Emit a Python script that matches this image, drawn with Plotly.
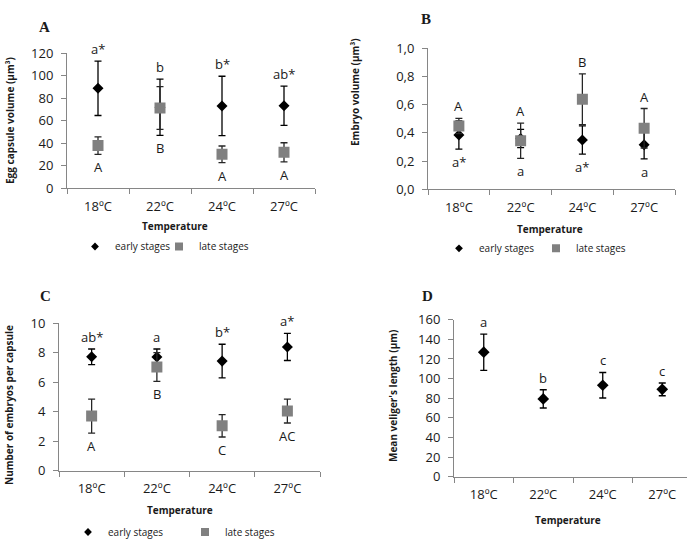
import plotly.graph_objects as go

# ---------------- data ----------------
categories = ["18ºC", "22ºC", "24ºC", "27ºC"]

# Panel A: egg capsule volume
a_early = [88.9, 72.0, 73.2, 73.4]
a_early_err = [24.2, 25.0, 26.4, 17.5]
a_late = [38.0, 71.4, 30.2, 32.0]
a_late_err = [7.8, 19.0, 7.4, 8.5]
a_upper_letters = ["a*", "b", "b*", "ab*"]
a_lower_letters = ["A", "B", "A", "A"]

# Panel B: embryo volume
b_early = [0.385, 0.36, 0.35, 0.316]
b_early_err = [0.10, 0.065, 0.10, 0.10]
b_late = [0.449, 0.345, 0.638, 0.433]
b_late_err = [0.054, 0.125, 0.18, 0.14]
b_upper_letters = ["A", "A", "B", "A"]
b_lower_letters = ["a*", "a", "a*", "a"]

# Panel C: number of embryos per capsule
c_early = [7.71, 7.70, 7.42, 8.38]
c_early_err = [0.53, 0.54, 1.14, 0.92]
c_late = [3.70, 7.02, 3.04, 4.04]
c_late_err = [1.15, 0.97, 0.76, 0.81]
c_upper_letters = ["ab*", "a", "b*", "a*"]
c_lower_letters = ["A", "B", "C", "AC"]

# Panel D: mean veliger's length
d_mean = [126.9, 79.3, 93.2, 89.0]
d_err = [18.5, 9.3, 13.0, 6.5]
d_upper_letters = ["a", "b", "c", "c"]

# ---------------- styling ----------------
W, H = 687, 546
FONT = "Open Sans"
TXT = "#1a1a1a"
AXC = "#868686"
GRAY = "#808080"


def px(x0, x1):
    return [x0 / W, x1 / W]


def py(top, bottom):
    return [1 - bottom / H, 1 - top / H]


fig = go.Figure()

panels = [
    ("", a_early, a_early_err, a_late, a_late_err, "legend"),
    ("2", b_early, b_early_err, b_late, b_late_err, "legend2"),
    ("3", c_early, c_early_err, c_late, c_late_err, "legend3"),
]

for suf, e, ee, l, le, leg in panels:
    fig.add_trace(go.Scatter(
        x=categories, y=e, mode="markers", name="early stages",
        xaxis="x" + suf, yaxis="y" + suf, showlegend=False,
        marker=dict(symbol="diamond", size=8.5, color="black"),
        error_y=dict(type="data", array=ee, visible=True, color="black",
                     thickness=1.3, width=3.5),
    ))
    fig.add_trace(go.Scatter(
        x=categories, y=l, mode="markers", name="late stages",
        xaxis="x" + suf, yaxis="y" + suf, showlegend=False,
        marker=dict(symbol="square", size=11, color=GRAY),
        error_y=dict(type="data", array=le, visible=True, color="#262626",
                     thickness=1.3, width=3.5),
    ))
    # legend entries (smaller symbols, as in the original legend)
    fig.add_trace(go.Scatter(
        x=[None], y=[None], mode="markers", name="early stages",
        xaxis="x" + suf, yaxis="y" + suf, legend=leg, hoverinfo="skip",
        marker=dict(symbol="diamond", size=6, color="black"),
    ))
    fig.add_trace(go.Scatter(
        x=[None], y=[None], mode="markers", name="late stages",
        xaxis="x" + suf, yaxis="y" + suf, legend=leg, hoverinfo="skip",
        marker=dict(symbol="square", size=8, color=GRAY),
    ))
    # invisible spacer entry so the last label is not clipped
    fig.add_trace(go.Scatter(
        x=[None], y=[None], mode="markers", name=" ",
        xaxis="x" + suf, yaxis="y" + suf, legend=leg, hoverinfo="skip",
        marker=dict(symbol="square", size=1, color="rgba(0,0,0,0)"),
    ))

fig.add_trace(go.Scatter(
    x=categories, y=d_mean, mode="markers", name="veliger length",
    xaxis="x4", yaxis="y4", showlegend=False,
    marker=dict(symbol="diamond", size=9, color="black"),
    error_y=dict(type="data", array=d_err, visible=True, color="black",
                 thickness=1.3, width=3.5),
))

# ---------------- axes ----------------
def xax(domain, anchor, rng=(-0.5, 3.5)):
    return dict(domain=domain, anchor=anchor, type="category",
                categoryorder="array", categoryarray=categories,
                range=list(rng), showline=True, linecolor=AXC, linewidth=1,
                ticks="outside", tickson="boundaries", ticklen=5, tickcolor=AXC,
                tickfont=dict(family=FONT, size=13, color=TXT),
                ticklabelstandoff=6, showgrid=False, zeroline=False, fixedrange=True)


def yax(domain, anchor, rng, dtick, fmt=None):
    d = dict(domain=domain, anchor=anchor, range=list(rng), dtick=dtick, tick0=0,
             showline=True, linecolor=AXC, linewidth=1, ticks="outside",
             ticklen=5, tickcolor=AXC,
             tickfont=dict(family=FONT, size=13, color=TXT),
             ticklabelstandoff=5, showgrid=False, zeroline=False, fixedrange=True)
    if fmt:
        d["tickformat"] = fmt
    return d


xa, ya = px(67, 315), py(53.3, 188.3)
xb, yb = px(428, 675), py(48.3, 189.3)
xc, yc = px(59, 320), py(323, 470.7)
xd, yd = [454 / W, 1.0], py(319.7, 476.7)
d_range_end = -0.5 + (W - 454) / 59.5

fig.update_layout(
    xaxis=xax(xa, "y"), yaxis=yax(ya, "x", (0, 120), 20),
    xaxis2=xax(xb, "y2"), yaxis2=yax(yb, "x2", (0, 1.0), 0.2, ".1f"),
    xaxis3=xax(xc, "y3"), yaxis3=yax(yc, "x3", (0, 10), 2),
    xaxis4=xax(xd, "y4", (-0.5, d_range_end)), yaxis4=yax(yd, "x4", (0, 160), 20),
)

# ---------------- legends ----------------
def legend(x_text_start, y_center, dist):
    return dict(x=(x_text_start - 37) / W, y=1 - y_center / H, xanchor="left",
                yanchor="middle", orientation="h", entrywidth=dist - 45,
                entrywidthmode="pixels", bgcolor="rgba(0,0,0,0)",
                font=dict(family=FONT, size=10, color=TXT), itemclick=False,
                itemdoubleclick=False, tracegroupgap=0)


fig.update_layout(
    legend=legend(112, 246.5, 84),
    legend2=legend(476, 248.3, 97),
    legend3=legend(105, 532, 117),
)

# ---------------- annotations ----------------
ann = []


def letters(suf, series, upper, lower):
    for i, cat in enumerate(categories):
        tops = [v[i] + er[i] for v, er in series]
        bots = [v[i] - er[i] for v, er in series]
        if upper:
            ann.append(dict(x=cat, y=max(tops), xref="x" + suf, yref="y" + suf,
                            text=upper[i], showarrow=False, yanchor="middle",
                            yshift=12, font=dict(family=FONT, size=13, color=TXT)))
        if lower:
            ann.append(dict(x=cat, y=min(bots), xref="x" + suf, yref="y" + suf,
                            text=lower[i], showarrow=False, yanchor="middle",
                            yshift=-13, font=dict(family=FONT, size=13, color=TXT)))


letters("", [(a_early, a_early_err), (a_late, a_late_err)], a_upper_letters, a_lower_letters)
letters("2", [(b_early, b_early_err), (b_late, b_late_err)], b_upper_letters, b_lower_letters)
letters("3", [(c_early, c_early_err), (c_late, c_late_err)], c_upper_letters, c_lower_letters)
letters("4", [(d_mean, d_err)], d_upper_letters, None)


def paper_text(text, x, y, size=10, bold=True, angle=0, family=FONT):
    ann.append(dict(text=f"<b>{text}</b>" if bold else text, x=x / W, y=1 - y / H,
                    xref="paper", yref="paper", showarrow=False, textangle=angle,
                    xanchor="center", yanchor="middle",
                    font=dict(family=family, size=size, color=TXT)))


# axis titles
paper_text("Egg capsule volume (µm³)", 10, 121, angle=-90)
paper_text("Embryo volume (µm³)", 355, 92, angle=-90)
paper_text("Number of embryos per capsule", 9, 405, angle=-90)
paper_text("Mean veliger's length (µm)", 393, 396, angle=-90)
paper_text("Temperature", 175, 226)
paper_text("Temperature", 550, 229)
paper_text("Temperature", 180, 510)
paper_text("Temperature", 568, 520)

# panel letters
serif = "Liberation Serif"
paper_text("A", 44, 27, size=15, family=serif)
paper_text("B", 426, 19, size=15, family=serif)
paper_text("C", 45, 296, size=15, family=serif)
paper_text("D", 427, 296, size=15, family=serif)

fig.update_layout(
    annotations=ann,
    width=W, height=H, margin=dict(l=0, r=0, t=0, b=0, autoexpand=False),
    paper_bgcolor="white", plot_bgcolor="white",
    separators=",.",
    font=dict(family=FONT, color=TXT),
)

fig.write_html(
    "out.html",
    config={"displayModeBar": False},
    post_script="document.body.style.margin='0';document.body.style.overflow='hidden';",
)
